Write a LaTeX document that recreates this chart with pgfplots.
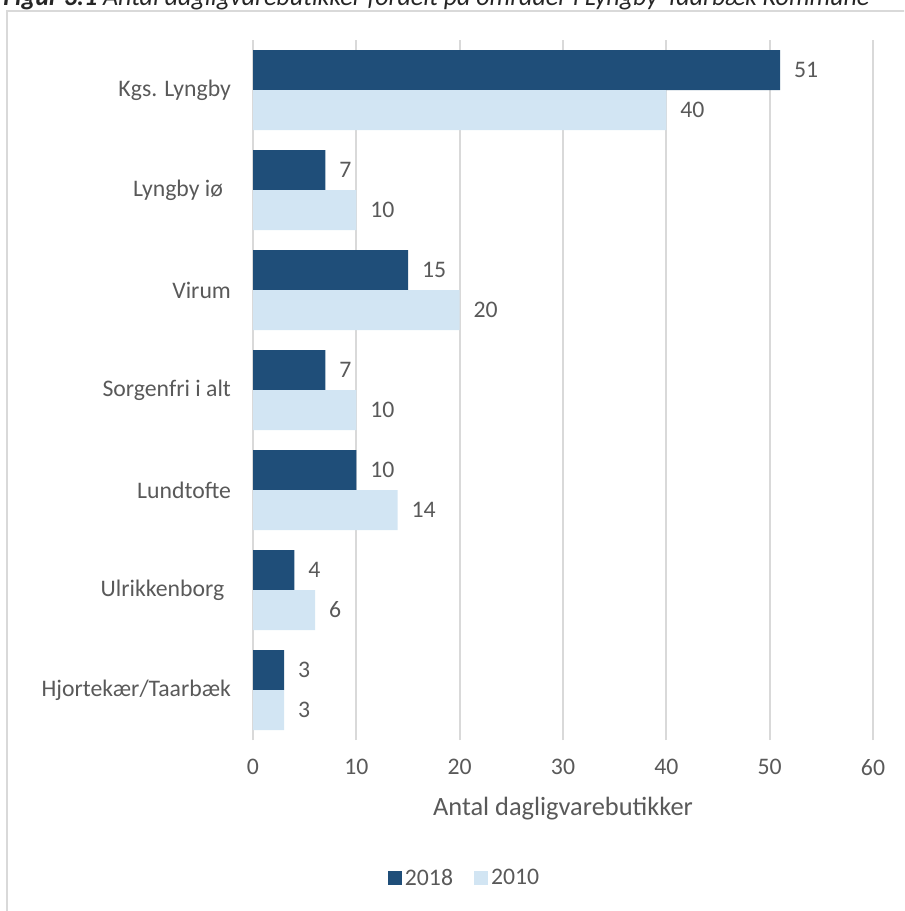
\documentclass[border=0pt]{standalone}
\usepackage{fontspec}
\setmainfont{Carlito}
\usepackage{pgfplots}
\pgfplotsset{compat=1.18}
\definecolor{darkblue}{HTML}{1F4E79}
\definecolor{lightblue}{HTML}{D2E5F3}
\definecolor{txtgray}{HTML}{595959}
\definecolor{gridgray}{HTML}{D9D9D9}

\begin{document}
\begin{tikzpicture}
% picture is 904 x 911 px, 1 px = 0.75pt, origin at top left
\useasboundingbox (0,0) rectangle (678pt,-683.25pt);
\clip (0,0) rectangle (678pt,-683.25pt);
\draw[gridgray, line width=1.5pt] (5.25pt,-8.25pt) rectangle (720pt,-720pt);
\node[anchor=base west, inner sep=0pt, text=black!85] at (2.25pt,-3.75pt)
  {\resizebox{649.5pt}{!}{\itshape\bfseries Figur 3.1 \mdseries Antal dagligvarebutikker fordelt på områder i Lyngby-Taarbæk Kommune}};
\begin{axis}[
  at={(189.75pt,-555pt)}, anchor=south west,
  scale only axis, width=465pt, height=525pt,
  xbar, bar width=0.4,
  xmin=0, xmax=60, ymin=-0.5, ymax=6.5,
  xtick={0,10,...,60},
  ytick={0,...,6},
  yticklabels={Hjortekær/Taarbæk,Ulrikkenborg\hspace*{5pt},Lundtofte,Sorgenfri i alt,Virum,Lyngby iø\hspace*{6pt},Kgs. Lyngby},
  major tick length=0pt,
  axis line style={draw=none},
  xmajorgrids, grid style={gridgray, line width=1.3pt},
  /pgf/number format/assume math mode=true,
  ticklabel style={text=txtgray, font=\fontsize{17.8}{20}\selectfont},
  yticklabel style={xshift=-13pt},
  xticklabel style={yshift=-11pt},
  xlabel={Antal dagligvarebutikker},
  xlabel style={at={(axis description cs:0.5,0)}, anchor=base, yshift=-56.25pt,
    text=txtgray, font=\fontsize{19.8}{22}\selectfont},
  nodes near coords,
  nodes near coords style={anchor=west, xshift=7pt, text=txtgray,
    font=\fontsize{17.8}{20}\selectfont},
  legend style={at={(0.342,-0.197)}, anchor=center, draw=none, fill=none,
    legend columns=2, text=txtgray, font=\fontsize{17.8}{20}\selectfont,
    /tikz/every even column/.append style={column sep=14pt}},
  legend image code/.code={\fill[#1] (0pt,-5.25pt) rectangle (10.5pt,5.25pt);},
  clip=false,
]
\addplot[fill=darkblue, draw=none, bar shift=0.2] coordinates {
  (3,0) (4,1) (10,2) (7,3) (15,4) (7,5) (51,6)};
\addplot[fill=lightblue, draw=none, bar shift=-0.2] coordinates {
  (3,0) (6,1) (14,2) (10,3) (20,4) (10,5) (40,6)};
\legend{2018,2010}
\end{axis}
\end{tikzpicture}
\end{document}
